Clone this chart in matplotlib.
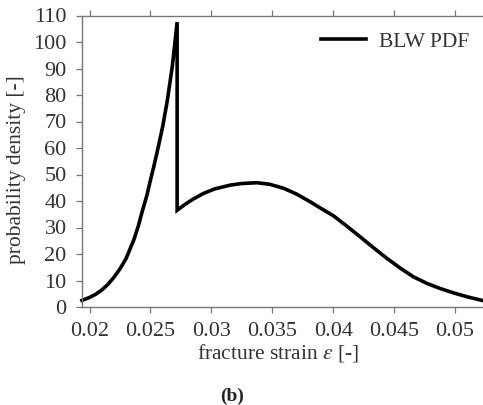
import matplotlib
matplotlib.use('Agg')
import matplotlib.pyplot as plt

# values
# first branch: rising up to the threshold strain
strain_low = [0.01938, 0.0200, 0.0205, 0.0210, 0.0215, 0.0220, 0.0225, 0.0230, 0.02363,
              0.0240, 0.02432, 0.0247, 0.0250, 0.02527, 0.02555, 0.0260, 0.02637,
              0.0268, 0.02719]
pdf_low = [2.5, 3.6, 4.8, 6.4, 8.5, 11.2, 14.4, 18.3, 25.3,
           30.5, 36.0, 42.0, 47.9, 52.9, 58.5, 68.0, 77.5,
           91.0, 107.5]
# second branch: after the drop
strain_high = [0.02719, 0.0278, 0.0285, 0.02937, 0.0303, 0.03156, 0.0325, 0.03375,
               0.0348, 0.03593, 0.0370, 0.03811, 0.03893, 0.04003, 0.0411, 0.04221,
               0.0433, 0.0444, 0.0455, 0.04658, 0.0477, 0.04877, 0.0499, 0.05096, 0.0523]
pdf_high = [36.5, 38.6, 40.7, 42.9, 44.6, 46.0, 46.6, 46.9,
            46.3, 44.8, 42.6, 39.7, 37.4, 34.4, 30.6, 26.5,
            22.4, 18.4, 14.7, 11.4, 8.9, 7.0, 5.3, 3.9, 2.4]

x_ticks = [0.02, 0.025, 0.03, 0.035, 0.04, 0.045, 0.05]
x_ticklabels = ['0.02', '0.025', '0.03', '0.035', '0.04', '0.045', '0.05']
y_ticks = list(range(0, 111, 10))

plt.rcParams['font.family'] = ['Liberation Serif', 'DejaVu Serif']
plt.rcParams['mathtext.fontset'] = 'stix'

fig = plt.figure(figsize=(4.83, 4.05), dpi=100)
ax = fig.add_axes([82 / 483, 1 - 307 / 405, 1 - 82 / 483, (307 - 15.5) / 405])

strain = strain_low + strain_high
pdf = pdf_low + pdf_high
ax.plot(strain, pdf, color='black', lw=2.6, solid_joinstyle='miter', label='BLW PDF', clip_on=False)

ax.set_xlim(0.01938, 0.0523)
ax.set_ylim(0, 110)
ax.set_xticks(x_ticks)
ax.set_xticklabels(x_ticklabels)
ax.set_yticks(y_ticks)

spine_col = '#777777'
for s in ['left', 'bottom', 'top']:
    ax.spines[s].set_color(spine_col)
    ax.spines[s].set_linewidth(1.0)
ax.spines['right'].set_visible(False)
ax.tick_params(axis='both', direction='out', length=4, width=0.9, color=spine_col,
               labelcolor='#333333', labelsize=16)
ax.tick_params(axis='x', top=True, pad=7)
ax.tick_params(axis='y', right=False, pad=7)

ax.set_xlabel('fracture strain $\\varepsilon$ [-]', color='#333333', fontsize=15.5)
ax.set_ylabel('probability density [-]', color='#333333', fontsize=15.5)
# label anchors: top of x label, right side of the rotated y label
ax.xaxis.set_label_coords(0.49, (307 - 342) / 291.5)
ax.yaxis.set_label_coords((26 - 82) / 401, 0.47)

leg = ax.legend(loc='upper right', frameon=False, fontsize=15.5, handlelength=2.1,
                handletextpad=0.6, bbox_to_anchor=(1.015, 1.01))
for t in leg.get_texts():
    t.set_color('#333333')

fig.text(232 / 483, 1 - 396 / 405, '(b)', ha='center', va='center', fontsize=14,
         fontweight='bold', color='#222222')

fig.savefig('out.png', dpi=100)
